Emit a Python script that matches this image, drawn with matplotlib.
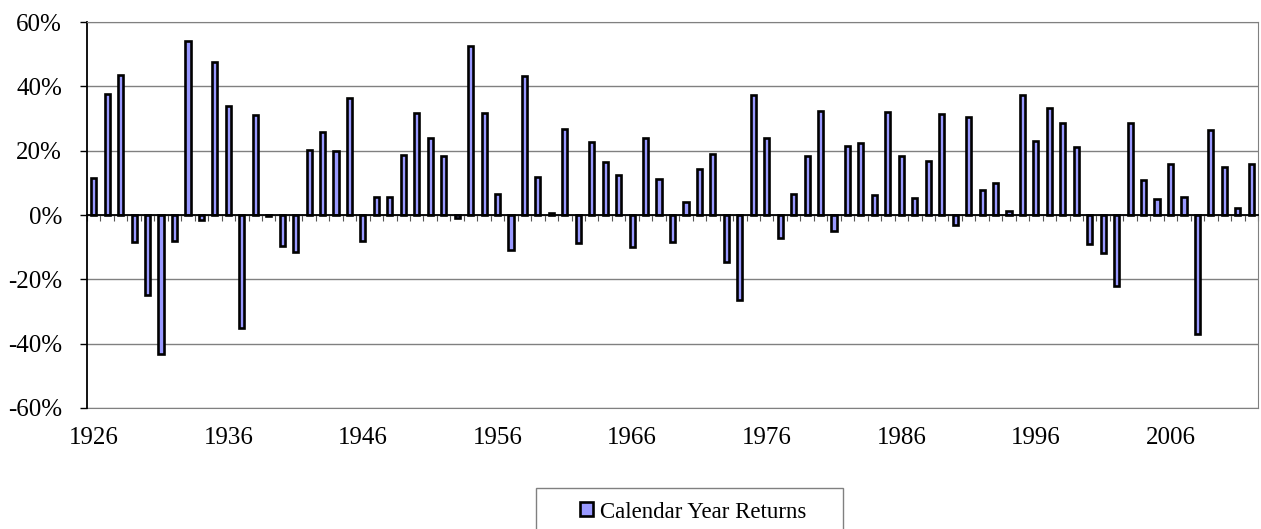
import matplotlib.pyplot as plt
from matplotlib.patches import Rectangle
from matplotlib.ticker import FixedLocator, FuncFormatter

years = list(range(1926, 2013))
returns = [11.62, 37.49, 43.61, -8.42, -24.90, -43.34, -8.19, 53.99, -1.44, 47.67,
           33.92, -35.03, 31.12, -0.41, -9.78, -11.59, 20.34, 25.90, 19.75, 36.44,
           -8.07, 5.71, 5.50, 18.79, 31.71, 24.02, 18.37, -0.99, 52.62, 31.56,
           6.56, -10.78, 43.36, 11.96, 0.47, 26.89, -8.73, 22.80, 16.48, 12.45,
           -10.06, 23.98, 11.06, -8.50, 4.01, 14.31, 18.98, -14.66, -26.47, 37.20,
           23.84, -7.18, 6.56, 18.44, 32.42, -4.91, 21.41, 22.51, 6.27, 32.16,
           18.47, 5.23, 16.81, 31.49, -3.17, 30.55, 7.67, 9.99, 1.31, 37.43,
           23.07, 33.36, 28.58, 21.04, -9.11, -11.88, -22.10, 28.68, 10.88, 4.91,
           15.79, 5.49, -37.00, 26.46, 15.06, 2.11, 16.00]
label_years = [1926, 1936, 1946, 1956, 1966, 1976, 1986, 1996, 2006]
y_ticks = [-60, -40, -20, 0, 20, 40, 60]

plt.rcParams['font.family'] = ['Liberation Serif', 'DejaVu Serif']

W, H = 1261, 529
fig = plt.figure(figsize=(W/100, H/100), dpi=100)
ax = fig.add_axes([87/W, 1-408/H, (1258-87)/W, (408-22)/H])

ax.bar(years, returns, width=0.38, color='#9999FF', edgecolor='black',
       linewidth=1.9, label='Calendar Year Returns', zorder=3)

ax.set_xlim(years[0]-0.5, years[-1]+0.5)
ax.set_ylim(-60, 60)
ax.set_yticks(y_ticks)
ax.yaxis.set_major_formatter(FuncFormatter(lambda v, p: '%d%%' % v))
ax.tick_params(axis='y', labelsize=18, length=5, width=1, direction='out', pad=13)
ax.grid(axis='y', color='#808080', linewidth=1, zorder=0)

# zero line with category boundary ticks
ax.spines['bottom'].set_position(('data', 0))
ax.spines['bottom'].set_color('black')
ax.spines['bottom'].set_linewidth(1.3)
ax.spines['bottom'].set_zorder(4)
ax.xaxis.set_major_locator(FixedLocator([y - 0.5 for y in years] + [years[-1] + 0.5]))
ax.tick_params(axis='x', length=4.5, width=0.8, direction='out', labelbottom=False,
               color='#555555')
ax.spines['left'].set_color('black')
ax.spines['left'].set_linewidth(1.3)
for s in ['top', 'right']:
    ax.spines[s].set_color('#808080')

sec = ax.secondary_xaxis('bottom')
sec.set_xticks(label_years)
sec.set_xticklabels([str(y) for y in label_years])
sec.tick_params(length=0, labelsize=18, pad=14)
sec.spines['bottom'].set_color('#808080')

# legend box
fig.patches.append(Rectangle((536/W, -0.05), (843-536)/W, 0.05 + 1-488/H,
                             transform=fig.transFigure, facecolor='white',
                             edgecolor='#808080', linewidth=1))
leg = fig.legend(loc='center', bbox_to_anchor=(693/W, 1-512/H),
                 fontsize=16.5, frameon=False, handlelength=0.55,
                 handleheight=0.55, handletextpad=0.3, borderpad=0,
                 borderaxespad=0)

fig.savefig('out.png', dpi=100)
